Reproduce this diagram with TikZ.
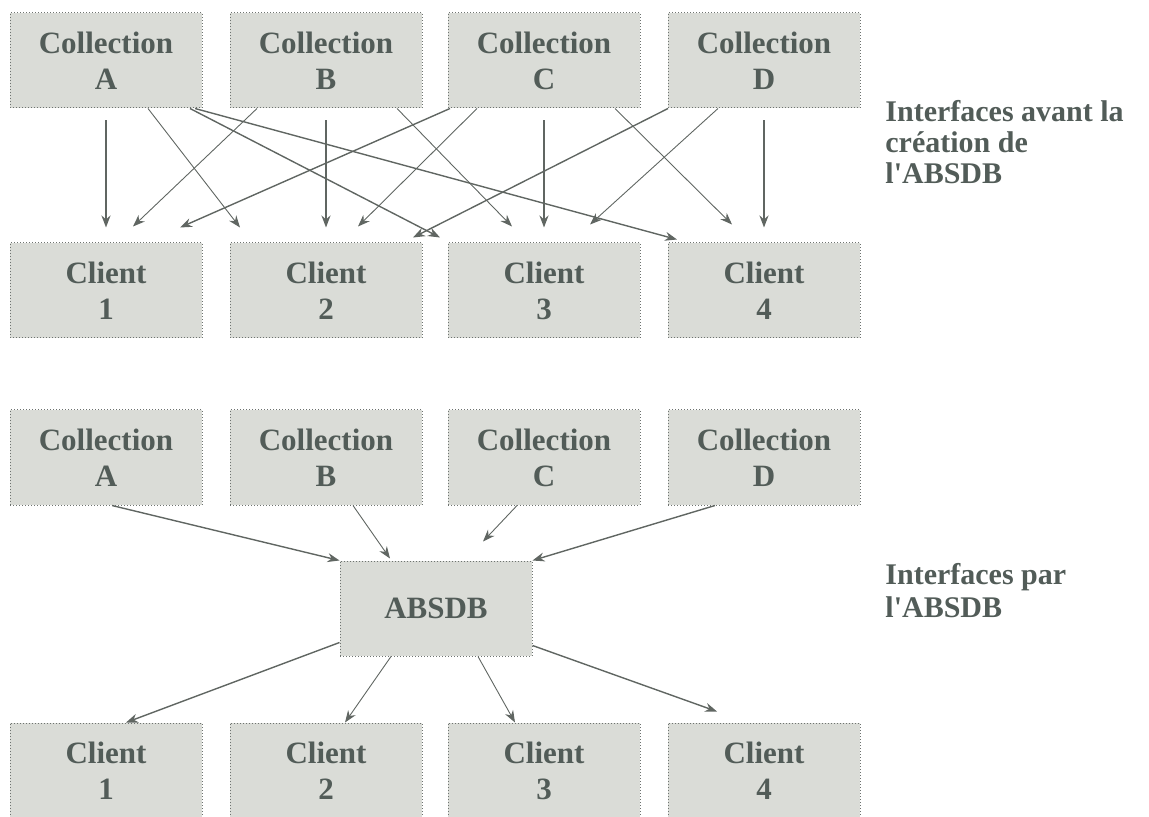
\documentclass[tikz,border=0pt]{standalone}
\usepackage{fontspec}
\setmainfont{Liberation Serif}
\usepackage{tikz}
\usetikzlibrary{arrows.meta, positioning, calc}
\definecolor{boxfill}{RGB}{218,220,215}
\definecolor{boxedge}{RGB}{110,115,112}
\definecolor{inkgray}{RGB}{82,92,88}
\definecolor{arrgray}{RGB}{96,102,98}
\tikzset{
  cbox/.style={rectangle, draw=boxedge, fill=boxfill, densely dotted,
    line width=0.5pt, minimum width=96pt, minimum height=47.5pt,
    align=center, text=inkgray, font=\fontsize{15.5}{18}\selectfont\bfseries,
    inner sep=0pt},
  note/.style={anchor=west, align=left, text=inkgray, inner sep=0pt},
  vert/.style={-{Stealth[length=6pt,width=4.5pt]}, line width=1pt, color=arrgray},
  midarr/.style={-{Stealth[length=6pt,width=4.5pt]}, line width=0.7pt, color=arrgray},
  thinarr/.style={-{Stealth[length=6pt,width=4.5pt]}, line width=0.45pt, color=arrgray}
}
\begin{document}
\begin{tikzpicture}[x=0.5pt, y=-0.5pt]
  \useasboundingbox (0,0) rectangle (1149,817);

  % Before: collections
  \node[cbox] (cA) at (106,60.5) {Collection\\A};
  \node[cbox] (cB) at (326,60.5) {Collection\\B};
  \node[cbox] (cC) at (544,60.5) {Collection\\C};
  \node[cbox] (cD) at (764,60.5) {Collection\\D};
  % Before: clients
  \node[cbox] (k1) at (106,290.5) {Client\\1};
  \node[cbox] (k2) at (326,290.5) {Client\\2};
  \node[cbox] (k3) at (544,290.5) {Client\\3};
  \node[cbox] (k4) at (764,290.5) {Client\\4};

  % Direct links
  \draw[vert] ($(cA.south)+(0,12)$) -- ($(k1.north)+(0,-15)$);
  \draw[vert] ($(cB.south)+(0,12)$) -- ($(k2.north)+(0,-15)$);
  \draw[vert] ($(cC.south)+(0,12)$) -- ($(k3.north)+(0,-15)$);
  \draw[vert] ($(cD.south)+(0,12)$) -- ($(k4.north)+(0,-15)$);
  % Crossed links
  \draw[thinarr] ($(cA.south)+(42,0)$)  -- ($(k2.north)+(-86,-15)$);
  \draw[midarr]  ($(cA.south)+(84,0)$)  -- ($(k3.north)+(-104,-5)$);
  \draw[midarr]  ($(cA.south)+(89,0)$)  -- ($(k4.north)+(-87,-3)$);
  \draw[thinarr] ($(cB.south)+(-69,0)$) -- ($(k1.north)+(27,-16)$);
  \draw[thinarr] ($(cB.south)+(71,0)$)  -- ($(k3.north)+(-32,-16)$);
  \draw[midarr]  ($(cC.south)+(-94,0)$) -- ($(k1.north)+(74,-15)$);
  \draw[thinarr] ($(cC.south)+(-67,0)$) -- ($(k2.north)+(32,-16)$);
  \draw[thinarr] ($(cC.south)+(71,0)$)  -- ($(k4.north)+(-32,-18)$);
  \draw[midarr]  ($(cD.south)+(-96,0)$) -- ($(k2.north)+(87,-5)$);
  \draw[thinarr] ($(cD.south)+(-46,0)$) -- ($(k3.north)+(46,-18)$);

  \node[note, font=\fontsize{15}{15.5}\selectfont\bfseries] (capA) at (885,142)
    {Interfaces avant la\\cr\'eation de\\l\textquotesingle ABSDB};

  % After: collections, hub, clients
  \node[cbox] (bA) at (106,457.5) {Collection\\A};
  \node[cbox] (bB) at (326,457.5) {Collection\\B};
  \node[cbox] (bC) at (544,457.5) {Collection\\C};
  \node[cbox] (bD) at (764,457.5) {Collection\\D};
  \node[cbox] (absdb) at (436,608.5) {ABSDB};
  \node[cbox] (m1) at (106,770.5) {Client\\1};
  \node[cbox] (m2) at (326,770.5) {Client\\2};
  \node[cbox] (m3) at (544,770.5) {Client\\3};
  \node[cbox] (m4) at (764,770.5) {Client\\4};

  % Into the ABSDB
  \draw[midarr]  ($(bA.south)+(6,0)$)   -- (absdb.north west);
  \draw[thinarr] ($(bB.south)+(27,0)$)  -- ($(absdb.north)+(-46,-2)$);
  \draw[thinarr] ($(bC.south)+(-27,0)$) -- ($(absdb.north)+(47,-19)$);
  \draw[midarr]  ($(bD.south)+(-49,0)$) -- (absdb.north east);
  % Out of the ABSDB
  \draw[midarr]  ($(absdb.south west)+(0,-14)$) -- ($(m1.north)+(20,0)$);
  \draw[thinarr] ($(absdb.south)+(-45,0)$)      -- ($(m2.north)+(19,0)$);
  \draw[thinarr] ($(absdb.south)+(42,0)$)       -- ($(m3.north)+(-29,0)$);
  \draw[midarr]  ($(absdb.south east)+(0,-11)$) -- ($(m4.north)+(-47,-11)$);

  \node[note, font=\fontsize{15}{16.5}\selectfont\bfseries] (capB) at (885,591)
    {Interfaces par\\l\textquotesingle ABSDB};
\end{tikzpicture}
\end{document}
